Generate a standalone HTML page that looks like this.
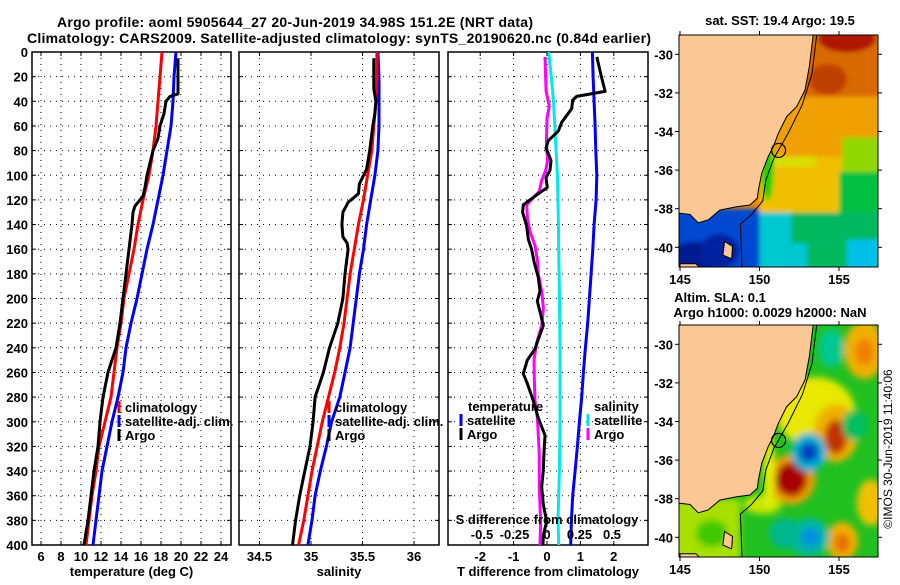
<!DOCTYPE html>
<html><head><meta charset="utf-8"><style>
html,body{margin:0;padding:0;background:#fff;}
svg text{font-family:"Liberation Sans",sans-serif;font-weight:bold;fill:#000;}
</style></head><body>
<svg id="c" width="900" height="580" viewBox="0 0 900 580" xmlns="http://www.w3.org/2000/svg">
<defs>
<filter id="blurS" x="-20%" y="-20%" width="140%" height="140%"><feGaussianBlur stdDeviation="2"/></filter>
<filter id="blurL" x="-20%" y="-20%" width="140%" height="140%"><feGaussianBlur stdDeviation="3.5"/></filter>
</defs>
<text x="57" y="27" font-size="14" textLength="476">Argo profile: aoml 5905644_27 20-Jun-2019 34.98S 151.2E (NRT data)</text>
<text x="27" y="43" font-size="14" textLength="624">Climatology: CARS2009. Satellite-adjusted climatology: synTS_20190620.nc (0.84d earlier)</text>
<g id="maps"></g>
<g id="panels"></g>
<text transform="translate(892,449) rotate(-90)" font-size="12" text-anchor="middle" style="font-weight:normal">©IMOS 30-Jun-2019 11:40:06</text>
</svg>
<script>
// ---- Data ----
const stdDepths = [0,20,40,60,80,100,120,140,160,180,200,220,240,260,280,300,320,340,360,380,400];
const tempClim = [18.1,17.9,17.7,17.5,17.2,16.8,16.2,15.7,15.3,14.8,14.3,14.0,13.6,13.3,13.0,12.4,11.8,11.5,11.1,10.8,10.5];
const tempSat = [19.5,19.3,19.2,19.0,18.6,18.2,17.7,17.2,16.6,16.1,15.6,15.0,14.5,14.2,13.7,13.1,12.6,12.1,11.8,11.5,11.2];
const tempArgoDepths = [5,34,36,40,50,60,70,80,100,110,117,125,130,140,160,180,200,220,240,260,280,300,320,340,360,380,400];
const tempArgo = [19.7,19.7,18.9,18.5,18.3,17.9,17.7,17.2,16.6,16.4,16.2,15.4,15.2,15.1,14.8,14.5,14.2,13.9,13.5,12.7,12.2,11.9,11.7,11.3,11.0,10.7,10.3];
const salClim = [35.64,35.64,35.63,35.61,35.59,35.55,35.51,35.46,35.42,35.38,35.35,35.32,35.28,35.23,35.17,35.11,35.06,35.01,34.97,34.93,34.88];
const salSat = [35.65,35.66,35.66,35.66,35.65,35.62,35.58,35.54,35.51,35.47,35.44,35.41,35.38,35.33,35.28,35.20,35.15,35.09,35.04,35.01,34.97];
const salArgoDepths = [5,30,40,50,60,80,95,107,115,122,130,140,150,155,160,180,200,220,240,260,280,300,320,340,360,380,400];
const salArgo = [35.61,35.61,35.63,35.62,35.60,35.57,35.54,35.47,35.46,35.36,35.31,35.30,35.31,35.35,35.36,35.33,35.31,35.26,35.18,35.12,35.04,35.02,34.99,34.94,34.89,34.85,34.82];
const dTsat = [1.36,1.38,1.41,1.44,1.46,1.49,1.47,1.41,1.37,1.32,1.27,1.22,1.15,1.09,1.04,0.97,0.91,0.84,0.77,0.73,0.71];
const dSsat = [0.013,0.033,0.05,0.06,0.07,0.08,0.085,0.088,0.09,0.093,0.096,0.098,0.1,0.1,0.1,0.1,0.098,0.095,0.09,0.085,0.09];
const dTargoDepths = [4,18,32,36,39,46,57,64,72,78,88,96,102,110,114,124,130,141,152,160,171,183,194,202,213,222,233,241,250,261,269,283,297,311,325,339,353,367,381,392,400];
const dTargo = [1.49,1.61,1.74,0.89,0.77,0.74,0.44,0.34,0.04,-0.03,0.12,0.09,-0.03,0.01,-0.21,-0.71,-0.73,-0.61,-0.56,-0.46,-0.38,-0.26,-0.21,-0.29,-0.19,-0.11,-0.26,-0.36,-0.59,-0.71,-0.59,-0.41,-0.26,-0.06,-0.09,-0.11,-0.16,-0.11,-0.01,-0.11,-0.12];
const dSargoDepths = [4,32,44,54,74,88,96,104,113,124,135,146,157,169,180,194,208,222,236,250,264,283,297,325,353,381,400];
const dSargo = [-0.015,-0.007,0.018,0.0,-0.005,0.005,-0.01,-0.041,-0.059,-0.156,-0.151,-0.13,-0.092,-0.074,-0.067,-0.041,-0.028,-0.041,-0.08,-0.10,-0.098,-0.092,-0.074,-0.06,-0.059,-0.049,-0.054];
const depthTicks = [0,20,40,60,80,100,120,140,160,180,200,220,240,260,280,300,320,340,360,380,400];
const tempTicks = [6,8,10,12,14,16,18,20,22,24];
const salTicks = [34.5,35,35.5,36];
const dTTicks = [-2,-1,0,1,2];
const dSTicks = [-0.5,-0.25,0,0.25,0.5];
const dSTickLabels = ["-0.5","-0.25","0","0.25","0.5"];
const latTicks = [-30,-32,-34,-36,-38,-40];
const lonTicks = [145,150,155];
const argoLon = 151.2, argoLat = -34.98;

const NS='http://www.w3.org/2000/svg';
const svg=document.getElementById('c');
function mk(tag,attrs,parent){const e=document.createElementNS(NS,tag);for(const k in attrs)e.setAttribute(k,attrs[k]);(parent||svg).appendChild(e);return e;}
const Y0=52,Y1=545;
const yD=d=>Y0+(d/400)*(Y1-Y0);
const xT=t=>41+(t-6)*10;
const xS=s=>311+(s-35)*103;
const xDT=v=>547+v*33.4;
const xDS=v=>547+v*130;
const panels=document.getElementById('panels');

function panelFrame(name,x0,x1,xticks,xf,labels,title,showDepth){
  const g=mk('g',{},panels);
  
  
  depthTicks.forEach(d=>{
    if(d===0||d===400)return;
    const l=mk('line',{x1:x0,x2:x1,y1:yD(d),y2:yD(d),stroke:'#000','stroke-width':1,'stroke-dasharray':'1,5'},g);
    
    
    mk('line',{x1:x0,x2:x0+4,y1:yD(d),y2:yD(d),stroke:'#000'},g);
    mk('line',{x1:x1-4,x2:x1,y1:yD(d),y2:yD(d),stroke:'#000'},g);
  });
  xticks.forEach((v,i)=>{
    const x=xf(v);
    const l=mk('line',{x1:x,x2:x,y1:Y0,y2:Y1,stroke:'#000','stroke-width':1,'stroke-dasharray':'1,5'},g);
    
    
    mk('line',{x1:x,x2:x,y1:Y0,y2:Y0+4,stroke:'#000'},g);
    mk('line',{x1:x,x2:x,y1:Y1-4,y2:Y1,stroke:'#000'},g);
    const t=mk('text',{x:x,y:561,'font-size':13,'text-anchor':'middle'},g);
    t.textContent=labels[i];
    
    
  });
  const r=mk('rect',{x:x0,y:Y0,width:x1-x0,height:Y1-Y0,fill:'none',stroke:'#000','stroke-width':1.5},g);
  
  
  const tt=mk('text',{x:(x0+x1)/2,y:576,'font-size':13,'text-anchor':'middle'},g);
  tt.textContent=title;
  
  
  if(showDepth){
    depthTicks.forEach(d=>{
      const t=mk('text',{x:28,y:yD(d)+5,'font-size':13,'text-anchor':'end'},g);
      t.textContent=d;
      
      
    });
  }
  return g;
}
function series(g,depths,vals,xf,color,name){
  const pts=depths.map((d,i)=>xf(vals[i]).toFixed(1)+','+yD(d).toFixed(1)).join(' ');
  const p=mk('polyline',{points:pts,fill:'none',stroke:color,'stroke-width':3,'stroke-linejoin':'round'},g);
  
  
}
function legendEntry(g,x,y,color,label,name){
  const e=mk('g',{},g);
  
  
  mk('line',{x1:x,x2:x,y1:y-11,y2:y+1,stroke:color,'stroke-width':3},e);
  const t=mk('text',{x:x+6,y:y,'font-size':13},e);
  t.textContent=label;
}

const p1=panelFrame('temperature-panel',32,231,tempTicks,xT,tempTicks.map(String),'temperature (deg C)',true);
series(p1,stdDepths,tempSat,xT,'#0000ff','temp-satellite-line');
series(p1,stdDepths,tempClim,xT,'#ff0000','temp-climatology-line');
series(p1,tempArgoDepths,tempArgo,xT,'#000000','temp-argo-line');
legendEntry(p1,119,412,'#ff0000','climatology','legend-climatology');
legendEntry(p1,119,426,'#0000ff','satellite-adj. clim.','legend-satellite-adj');
legendEntry(p1,119,440,'#000000','Argo','legend-argo');

const p2=panelFrame('salinity-panel',239,439,salTicks,xS,salTicks.map(String),'salinity',false);
series(p2,stdDepths,salSat,xS,'#0000ff','sal-satellite-line');
series(p2,stdDepths,salClim,xS,'#ff0000','sal-climatology-line');
series(p2,salArgoDepths,salArgo,xS,'#000000','sal-argo-line');
legendEntry(p2,329,412,'#ff0000','climatology','legend-climatology');
legendEntry(p2,329,426,'#0000ff','satellite-adj. clim.','legend-satellite-adj');
legendEntry(p2,329,440,'#000000','Argo','legend-argo');

const p3=panelFrame('difference-panel',448,648,dTTicks,xDT,dTTicks.map(String),'T difference from climatology',false);
series(p3,stdDepths,dSsat,xDS,'#00e8f0','dS-satellite-line');
series(p3,stdDepths,dTsat,xDT,'#0000ff','dT-satellite-line');
series(p3,dSargoDepths,dSargo,xDS,'#ff00ff','dS-argo-line');
series(p3,dTargoDepths,dTargo,xDT,'#000000','dT-argo-line');
{
  const t=mk('text',{x:468,y:411,'font-size':13},p3);t.textContent='temperature';
  
  
  const t2=mk('text',{x:594,y:411,'font-size':13},p3);t2.textContent='salinity';
  
  
  legendEntry(p3,461,425,'#0000ff','satellite','legend-t-satellite');
  legendEntry(p3,461,439,'#000000','Argo','legend-t-argo');
  legendEntry(p3,588,425,'#00e8f0','satellite','legend-s-satellite');
  legendEntry(p3,588,439,'#ff00ff','Argo','legend-s-argo');
  const st=mk('text',{x:547,y:524,'font-size':13,'text-anchor':'middle'},p3);st.textContent='S difference from climatology';
  
  
  dSTicks.forEach((v,i)=>{
    const t=mk('text',{x:xDS(v),y:539,'font-size':13,'text-anchor':'middle'},p3);t.textContent=dSTickLabels[i];
    
    
  });
}

// ---- Maps ----
const maps=document.getElementById('maps');
const MX0=679,MX1=878,MH=232;
const lonX=lon=>680+(lon-145)*15.9;
const latY=(lat,top)=>top+(-29-lat)*19.3;
const coast=[[153.38,-29],[153.13,-30.64],[152.86,-31.85],[152.34,-32.71],[151.71,-33.23],[151.18,-34.1],[150.87,-34.79],[150.55,-35.3],[150.14,-36.17],[149.93,-37.03],[149.86,-37.46],[149.4,-37.81],[148.56,-37.9],[147.5,-38.07],[146.78,-38.58],[146.15,-38.73],[145.63,-38.3],[145,-38.24]];
const shelf=[[153.6,-29],[153.3,-31],[152.7,-32.6],[151.8,-34.1],[150.9,-35.4],[150.4,-36.5],[150.2,-37.6],[149.5,-38.3],[148.8,-38.8],[148.9,-41]];
function mapFrame(name,top,blobs,base,titles,filt){
  const g=mk('g',{},maps);
  
  
  const cid='clip'+top;
  const cp=mk('clipPath',{id:cid},g);
  mk('rect',{x:MX0,y:top,width:MX1-MX0,height:MH},cp);
  const inner=mk('g',{'clip-path':'url(#'+cid+')'},g);
  mk('rect',{x:MX0-20,y:top-20,width:MX1-MX0+40,height:MH+40,fill:base},inner);
  const bg=mk('g',{filter:'url(#'+filt+')'},inner);
  blobs.forEach(b=>{
    const e=mk(b.shape==='r'?'rect':'ellipse',{},bg);
    if(b.shape==='r'){e.setAttribute('x',lonX(b.lon0));e.setAttribute('y',latY(b.lat0,top));e.setAttribute('width',lonX(b.lon1)-lonX(b.lon0));e.setAttribute('height',latY(b.lat1,top)-latY(b.lat0,top));}
    else{e.setAttribute('cx',lonX(b.lon));e.setAttribute('cy',latY(b.lat,top));e.setAttribute('rx',b.rx*15.9);e.setAttribute('ry',b.ry*19.3);}
    e.setAttribute('fill',b.c);
  });
  const land=coast.map(p=>lonX(p[0]).toFixed(1)+','+latY(p[1],top).toFixed(1)).join(' ')+' '+lonX(140)+','+latY(-38.24,top)+' '+lonX(140)+','+latY(-28,top)+' '+lonX(153.38)+','+latY(-28,top);
  const lp=mk('polygon',{points:land,fill:'#fbc895',stroke:'#000','stroke-width':1},inner);
  
  
  mk('polygon',{points:[[147.8,-39.7],[148.3,-39.95],[148.25,-40.6],[147.7,-40.4]].map(p=>lonX(p[0])+','+latY(p[1],top)).join(' '),fill:'#fbc895',stroke:'#000','stroke-width':1},inner);
  mk('polygon',{points:[[145,-40.85],[146,-40.85],[146.3,-41.1],[145,-41.1]].map(p=>lonX(p[0])+','+latY(p[1],top)).join(' '),fill:'#fbc895',stroke:'#000','stroke-width':1},inner);
  mk('polyline',{points:shelf.map(p=>lonX(p[0]).toFixed(1)+','+latY(p[1],top).toFixed(1)).join(' '),fill:'none',stroke:'#000','stroke-width':1},inner);
  const ci=mk('circle',{cx:lonX(argoLon),cy:latY(argoLat,top),r:7,fill:'none',stroke:'#000','stroke-width':1.2},g);
  
  
  mk('rect',{x:MX0,y:top,width:MX1-MX0,height:MH,fill:'none',stroke:'#000','stroke-width':1},g);
  latTicks.forEach(l=>{
    const y=latY(l,top);
    mk('line',{x1:MX0,x2:MX0-4,y1:y,y2:y,stroke:'#000'},g);
    mk('line',{x1:MX1,x2:MX1+4,y1:y,y2:y,stroke:'#000'},g);
    const t=mk('text',{x:673,y:y+5,'font-size':13,'text-anchor':'end'},g);t.textContent=l;
    
    
  });
  lonTicks.forEach(l=>{
    const x=lonX(l);
    mk('line',{x1:x,x2:x,y1:top,y2:top-4,stroke:'#000'},g);
    mk('line',{x1:x,x2:x,y1:top+MH,y2:top+MH+4,stroke:'#000'},g);
    const t=mk('text',{x:x,y:top+MH+17,'font-size':13,'text-anchor':'middle'},g);t.textContent=l;
    
    
  });
  titles.forEach(tt=>{
    const t=mk('text',{x:tt[0],y:tt[1],'font-size':13,'text-anchor':'middle'},g);t.textContent=tt[2];
    
    
  });
}
const sstBlobs=[
 {shape:'r',lon0:150,lat0:-28,lon1:159,lat1:-32.2,c:'#d86a00'},
 {shape:'e',lon:155.5,lat:-29.2,rx:1.8,ry:0.7,c:'#b01800'},
 {shape:'e',lon:154.3,lat:-31.3,rx:1.2,ry:0.8,c:'#c04000'},
 {shape:'r',lon0:150,lat0:-32.2,lon1:159,lat1:-35.3,c:'#f0a000'},
 {shape:'r',lon0:150,lat0:-35.3,lon1:159,lat1:-38.2,c:'#f0c000'},
 {shape:'r',lon0:150,lat0:-35.3,lon1:153.5,lat1:-35.8,c:'#d8e000'},
 {shape:'r',lon0:155,lat0:-36.1,lon1:159,lat1:-38.3,c:'#00c040'},
 {shape:'r',lon0:155.2,lat0:-34.3,lon1:159,lat1:-36.1,c:'#90d800'},
 {shape:'r',lon0:140,lat0:-38.2,lon1:159,lat1:-42,c:'#00b860'},
 {shape:'r',lon0:150,lat0:-38.2,lon1:152,lat1:-42,c:'#00c8d0'},
 {shape:'r',lon0:152,lat0:-39.8,lon1:153,lat1:-42,c:'#00c8d0'},
 {shape:'r',lon0:155.5,lat0:-39.6,lon1:159,lat1:-42,c:'#00c0e8'},
 {shape:'r',lon0:140,lat0:-38,lon1:150,lat1:-42,c:'#0048d0'},
 {shape:'e',lon:146,lat:-40.6,rx:1.8,ry:0.9,c:'#001a90'},
 {shape:'e',lon:147.5,lat:-40.2,rx:1.2,ry:0.9,c:'#0020a0'},
 {shape:'e',lon:150.5,lat:-36,rx:0.4,ry:1.6,c:'#20d000'}
];
mapFrame('sst-map',35,sstBlobs,'#e88800',[[780,25,'sat. SST: 19.4 Argo: 19.5']],'blurS');
const slaBlobs=[
 {shape:'e',lon:153.5,lat:-33.5,rx:2.5,ry:1.8,c:'#e8e800'},
 {shape:'e',lon:156.6,lat:-30.3,rx:1.3,ry:1.5,c:'#f0b000'},
 {shape:'e',lon:156.6,lat:-30.4,rx:0.6,ry:0.7,c:'#f08000'},
 {shape:'e',lon:154.5,lat:-30.2,rx:0.8,ry:1.0,c:'#00c890'},
 {shape:'e',lon:154.8,lat:-34.6,rx:1.4,ry:1.5,c:'#f0b000'},
 {shape:'e',lon:154.8,lat:-34.8,rx:0.7,ry:0.9,c:'#c03000'},
 {shape:'e',lon:156,lat:-34.2,rx:0.8,ry:0.8,c:'#00c060'},
 {shape:'e',lon:152,lat:-37,rx:1.5,ry:1.3,c:'#f0a000'},
 {shape:'e',lon:152,lat:-37,rx:1.0,ry:0.9,c:'#a80000'},
 {shape:'e',lon:153.1,lat:-35.6,rx:1.1,ry:1.0,c:'#00b0d0'},
 {shape:'e',lon:153.1,lat:-35.6,rx:0.6,ry:0.5,c:'#0040c0'},
 {shape:'e',lon:157,lat:-38.2,rx:0.9,ry:1.2,c:'#f0c000'},
 {shape:'e',lon:155.2,lat:-40.2,rx:1.0,ry:1.0,c:'#f0b000'},
 {shape:'e',lon:155.2,lat:-40.3,rx:0.5,ry:0.5,c:'#e87000'},
 {shape:'e',lon:153.1,lat:-40,rx:1.3,ry:1.0,c:'#00b8a0'},
 {shape:'e',lon:153.2,lat:-40,rx:0.6,ry:0.5,c:'#0090e0'},
 {shape:'e',lon:151.6,lat:-39.8,rx:1,ry:0.8,c:'#00b890'},
 {shape:'e',lon:150.2,lat:-38.3,rx:1.2,ry:0.5,c:'#c8e800'},
 {shape:'r',lon0:140,lat0:-38,lon1:148.8,lat1:-42,c:'#a8e000'},
 {shape:'e',lon:147,lat:-39.8,rx:1,ry:0.7,c:'#40c800'},
 {shape:'e',lon:150.6,lat:-36.5,rx:0.35,ry:2,c:'#e8f000'}
];
mapFrame('sla-map',325,slaBlobs,'#20c020',[[720,302,'Altim. SLA: 0.1'],[770,317,'Argo h1000: 0.0029 h2000: NaN']],'blurL');
</script>
</body></html>
